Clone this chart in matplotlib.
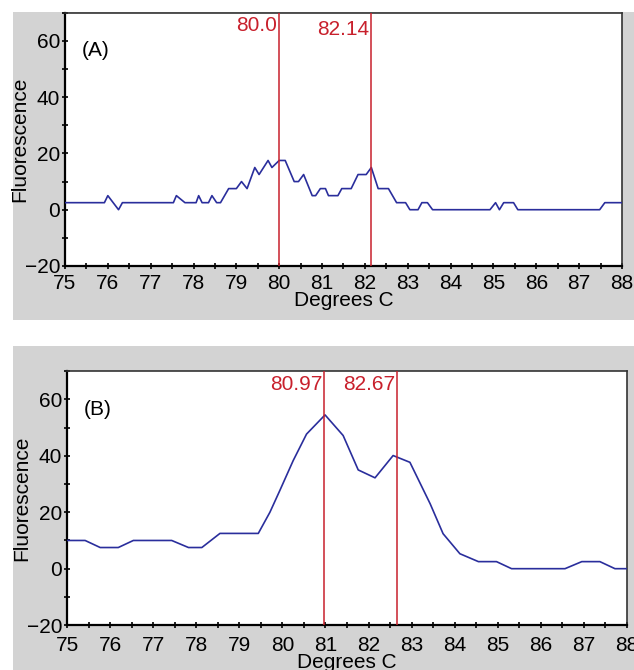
import matplotlib
matplotlib.use("Agg")
import matplotlib.pyplot as plt
from matplotlib.patches import Rectangle
from matplotlib.ticker import MultipleLocator

plt.rcParams['font.family'] = ['Liberation Sans', 'DejaVu Sans']

# =========================
# DATA
# =========================
temps_a = [75.0, 75.92, 76.0, 76.25, 76.34, 77.53, 77.6, 77.8, 78.06, 78.12,
           78.2, 78.35, 78.43, 78.54, 78.63, 78.82, 79.0, 79.12, 79.25, 79.43,
           79.53, 79.74, 79.83, 80.0, 80.14, 80.35, 80.45, 80.57, 80.77, 80.85,
           80.96, 81.08, 81.15, 81.37, 81.46, 81.68, 81.84, 82.03, 82.15, 82.31,
           82.55, 82.74, 82.95, 83.05, 83.24, 83.33, 83.46, 83.58, 84.92, 85.05,
           85.14, 85.24, 85.47, 85.57, 87.48, 87.6, 88.0]
fluor_a = [2.5, 2.5, 5, 0, 2.5, 2.5, 5, 2.5, 2.5, 5,
           2.5, 2.5, 5, 2.5, 2.5, 7.5, 7.5, 10, 7.5, 15,
           12.5, 17.5, 15, 17.5, 17.5, 10, 10, 12.5, 5, 5,
           7.5, 7.5, 5, 5, 7.5, 7.5, 12.5, 12.5, 15, 7.5,
           7.5, 2.5, 2.5, 0, 0, 2.5, 2.5, 0, 0, 2.5,
           0, 2.5, 2.5, 0, 0, 2.5, 2.5]
peaks_a = [80.0, 82.14]
peak_labels_a = ["80.0", "82.14"]
label_y_a = [65.5, 63.9]

temps_b = [75.0, 75.42, 75.77, 76.19, 76.54, 77.43, 77.82, 78.13, 78.55, 79.44,
           79.71, 79.94, 80.25, 80.56, 80.99, 81.41, 81.76, 82.15, 82.57, 82.96,
           83.43, 83.73, 84.12, 84.55, 84.97, 85.32, 86.56, 86.95, 87.37, 87.72, 88.0]
fluor_b = [10, 10, 7.5, 7.5, 10, 10, 7.5, 7.5, 12.5, 12.5,
           20, 27.7, 38.3, 47.7, 54.5, 47.2, 35, 32.2, 40.1, 37.7,
           23, 12.4, 5.3, 2.5, 2.5, 0, 0, 2.5, 2.5, 0, 0]
peaks_b = [80.97, 82.67]
peak_labels_b = ["80.97", "82.67"]
label_y_b = [65.2, 65.2]

x_ticks = list(range(75, 89))
y_ticks = [-20, 0, 20, 40, 60]

BLUE = "#2a2e9c"
RED = "#c8202c"
GREY = "#d3d3d3"

# =========================
# FIGURE
# =========================
fig = plt.figure(figsize=(6.34, 6.70), dpi=100)

# grey panel backgrounds
fig.patches.append(Rectangle((0.0205, 0.522), 0.98, 0.46, transform=fig.transFigure,
                             facecolor=GREY, edgecolor="none", zorder=-10))
fig.patches.append(Rectangle((0.0205, 0.0), 0.98, 0.484, transform=fig.transFigure,
                             facecolor=GREY, edgecolor="none", zorder=-10))

ax_a = fig.add_axes([0.1025, 0.603, 0.8785, 0.378])
ax_b = fig.add_axes([0.1057, 0.067, 0.8833, 0.379])


def draw_panel(ax, temps, fluor, peaks, labels, label_y, tag, xpad):
    ax.set_facecolor("white")
    ax.plot(temps, fluor, color=BLUE, lw=1.2, zorder=3)
    for p, lab, ly in zip(peaks, labels, label_y):
        ax.axvline(p, color=RED, lw=1.1, zorder=4)
        ax.text(p - 0.04, ly, lab, color=RED, fontsize=15, ha="right", va="center")
    ax.text(75.4, 56.5, tag, fontsize=15, ha="left", va="center")

    ax.set_xlim(75, 88)
    ax.set_ylim(-20, 70)
    ax.set_xticks(x_ticks)
    ax.xaxis.set_minor_locator(MultipleLocator(0.5))
    ax.set_yticks(y_ticks)
    ax.yaxis.set_minor_locator(MultipleLocator(10))
    ax.tick_params(which="major", direction="inout", length=5, width=1.2,
                   labelsize=15)
    ax.tick_params(which="minor", direction="inout", length=4.5, width=1.2)
    ax.tick_params(axis="x", pad=xpad)
    ax.tick_params(axis="y", pad=1)
    for side in ["left", "bottom"]:
        ax.spines[side].set_linewidth(1.6)
        ax.spines[side].set_color("black")
    for side in ["top", "right"]:
        ax.spines[side].set_linewidth(1.2)
        ax.spines[side].set_color("#333333")
    ax.set_xlabel("Degrees C", fontsize=15, labelpad=-1)
    ax.set_ylabel("Fluorescence", fontsize=15, labelpad=-3)


draw_panel(ax_a, temps_a, fluor_a, peaks_a, peak_labels_a, label_y_a, "(A)", 3)
draw_panel(ax_b, temps_b, fluor_b, peaks_b, peak_labels_b, label_y_b, "(B)", 5)

fig.savefig("out.png", dpi=100)
